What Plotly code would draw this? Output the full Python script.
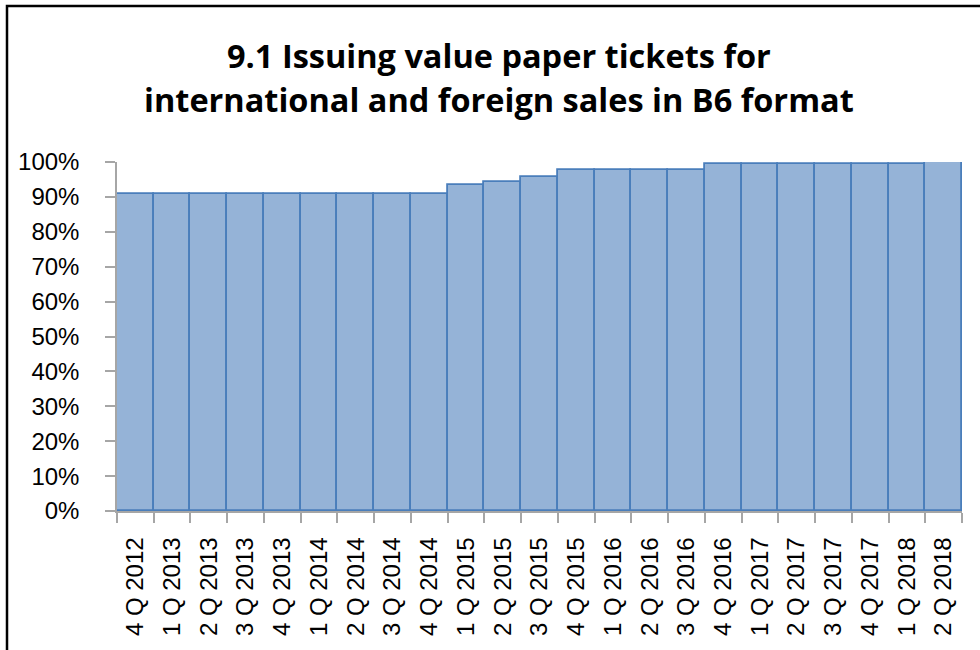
import plotly.graph_objects as go

quarters = ["4 Q 2012", "1 Q 2013", "2 Q 2013", "3 Q 2013", "4 Q 2013",
            "1 Q 2014", "2 Q 2014", "3 Q 2014", "4 Q 2014", "1 Q 2015",
            "2 Q 2015", "3 Q 2015", "4 Q 2015", "1 Q 2016", "2 Q 2016",
            "3 Q 2016", "4 Q 2016", "1 Q 2017", "2 Q 2017", "3 Q 2017",
            "4 Q 2017", "1 Q 2018", "2 Q 2018"]
share = [0.908, 0.908, 0.908, 0.908, 0.908,
         0.908, 0.908, 0.908, 0.908, 0.935,
         0.943, 0.958, 0.977, 0.977, 0.977,
         0.977, 0.993, 0.993, 0.993, 0.993,
         0.993, 0.993, 1.0]

title_lines = ["9.1 Issuing value paper tickets for",
               "international and foreign sales in B6 format"]

W, H = 980, 650
ML, MR, MT, MB = 117, 18, 162, 139
plot_w = W - ML - MR
plot_h = H - MT - MB


def px_x(p):
    return (p - ML) / plot_w


def px_y(p):
    return (H - MB - p) / plot_h


fig = go.Figure(go.Bar(
    x=quarters, y=share,
    marker=dict(color="#95B3D7", line=dict(color="#4A7EBB", width=1.8)),
    hoverinfo="x+y",
))

fig.update_layout(
    width=W, height=H,
    margin=dict(l=ML, r=MR, t=MT, b=MB),
    paper_bgcolor="white", plot_bgcolor="white",
    bargap=0,
    showlegend=False,
    font=dict(family="Liberation Sans, Arial, sans-serif", color="#000000"),
)

fig.update_xaxes(
    type="category",
    tickangle=-90,
    tickson="boundaries",
    ticks="outside", ticklen=10, tickcolor="#A6A6A6", tickwidth=1.5,
    showline=True, linecolor="#A6A6A6", linewidth=1.5,
    showgrid=False,
    tickfont=dict(size=24),
    ticklabelstandoff=15,
)

fig.update_yaxes(
    range=[0, 1.0],
    dtick=0.1,
    tickformat=".0%",
    ticks="outside", ticklen=10, tickcolor="#A6A6A6", tickwidth=1.5,
    showline=True, linecolor="#A6A6A6", linewidth=1.5,
    showgrid=True, gridcolor="#B3B3B3", gridwidth=1.5,
    tickfont=dict(size=24),
    ticklabelstandoff=21,
    zeroline=False,
)

for line, py in zip(title_lines, [56, 100]):
    fig.add_annotation(
        text="<b>%s</b>" % line,
        xref="paper", yref="paper",
        x=px_x(499), y=px_y(py),
        xanchor="center", yanchor="middle",
        showarrow=False,
        font=dict(family="Open Sans, sans-serif", size=32.5, color="#000000"),
    )

# chart frame
fig.add_shape(
    type="rect", xref="paper", yref="paper",
    x0=px_x(7), x1=px_x(W + 10), y0=px_y(H + 10), y1=px_y(6),
    line=dict(color="#000000", width=2.5),
    layer="above",
)

fig.write_html("out.html")
